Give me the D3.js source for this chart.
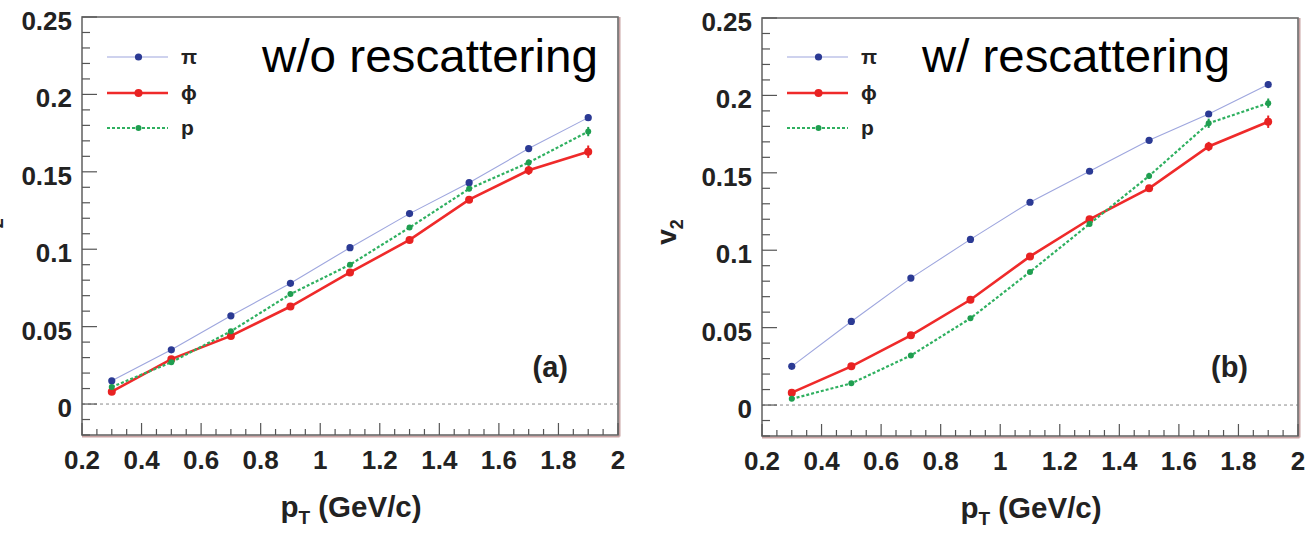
<!DOCTYPE html>
<html>
<head>
<meta charset="utf-8">
<script src="https://cdn.jsdelivr.net/npm/d3@7"></script>
<style>
  html, body { margin: 0; padding: 0; background: #fff; }
  svg { display: block; }
  text { font-family: "Liberation Sans", Arial, Helvetica, sans-serif; }
</style>
</head>
<body>
<svg id="chart" width="1305" height="535"></svg>
<script>
// pT bin centres (GeV/c)
const pt = [0.3, 0.5, 0.7, 0.9, 1.1, 1.3, 1.5, 1.7, 1.9];

// v2 without hadronic rescattering
const v2PiNoResc  = [0.015, 0.035, 0.057, 0.078, 0.101, 0.123, 0.143, 0.165, 0.185];
const v2PhiNoResc = [0.008, 0.029, 0.044, 0.063, 0.085, 0.106, 0.132, 0.151, 0.163];
const v2PNoResc   = [0.011, 0.027, 0.047, 0.071, 0.090, 0.114, 0.139, 0.156, 0.176];
const errPiNoResc  = [0.001, 0.001, 0.001, 0.001, 0.001, 0.001, 0.001, 0.0015, 0.002];
const errPhiNoResc = [0.001, 0.001, 0.001, 0.001, 0.001, 0.0015, 0.002, 0.003, 0.004];
const errPNoResc   = [0.001, 0.001, 0.001, 0.001, 0.001, 0.001, 0.0015, 0.002, 0.003];

// v2 with hadronic rescattering
const v2PiResc  = [0.025, 0.054, 0.082, 0.107, 0.131, 0.151, 0.171, 0.188, 0.207];
const v2PhiResc = [0.008, 0.025, 0.045, 0.068, 0.096, 0.120, 0.140, 0.167, 0.183];
const v2PResc   = [0.004, 0.014, 0.032, 0.056, 0.086, 0.117, 0.148, 0.182, 0.195];
const errPiResc  = [0.001, 0.001, 0.001, 0.001, 0.001, 0.001, 0.001, 0.0015, 0.002];
const errPhiResc = [0.001, 0.001, 0.001, 0.001, 0.0015, 0.002, 0.002, 0.003, 0.004];
const errPResc   = [0.001, 0.001, 0.001, 0.001, 0.001, 0.0015, 0.002, 0.003, 0.003];

// axis ticks
const xTicks = [0.2, 0.4, 0.6, 0.8, 1, 1.2, 1.4, 1.6, 1.8, 2];
const xTickLabels = ["0.2", "0.4", "0.6", "0.8", "1", "1.2", "1.4", "1.6", "1.8", "2"];
const yTicks = [0, 0.05, 0.1, 0.15, 0.2, 0.25];
const yTickLabels = ["0", "0.05", "0.1", "0.15", "0.2", "0.25"];

// species and panel text
const speciesNames = ["π", "ϕ", "p"];
const panelTitles = ["w/o rescattering", "w/ rescattering"];
const panelTags = ["(a)", "(b)"];

const xDomain = [0.2, 2];
const yDomain = [-0.02, 0.25];

const styles = [
  { line: "#9ea6de", width: 1.1, dash: null, marker: "#2b3a94", r: 3.6 },
  { line: "#ef2a2a", width: 2.6, dash: null, marker: "#e82222", r: 4.0 },
  { line: "#2fb060", width: 2.2, dash: "3,2", marker: "#1f9e50", r: 3.0 }
];

const panels = [
  { x0: 82, x1: 618, y0: 17, y1: 435, titleX: 262, titleW: 336,
    series: [[v2PiNoResc, errPiNoResc], [v2PhiNoResc, errPhiNoResc], [v2PNoResc, errPNoResc]] },
  { x0: 762, x1: 1298, y0: 18, y1: 436, titleX: 922, titleW: 308,
    series: [[v2PiResc, errPiResc], [v2PhiResc, errPhiResc], [v2PResc, errPResc]] }
];

const svg = d3.select("#chart");

panels.forEach((pn, pi) => {
  const x = d3.scaleLinear().domain(xDomain).range([pn.x0, pn.x1]);
  const y = d3.scaleLinear().domain(yDomain).range([pn.y1, pn.y0]);
  const g = svg.append("g");

  // zero reference line
  g.append("line")
    .attr("x1", pn.x0).attr("x2", pn.x1)
    .attr("y1", y(0)).attr("y2", y(0))
    .attr("stroke", "#8a8a8a").attr("stroke-width", 1)
    .attr("stroke-dasharray", "3,3");

  // frame with a soft reddish shade on right and bottom edges
  g.append("line").attr("x1", pn.x1 + 1.5).attr("x2", pn.x1 + 1.5)
    .attr("y1", pn.y0).attr("y2", pn.y1 + 1.5)
    .attr("stroke", "#c9a3a3").attr("stroke-width", 2);
  g.append("line").attr("x1", pn.x0).attr("x2", pn.x1 + 1.5)
    .attr("y1", pn.y1 + 1.5).attr("y2", pn.y1 + 1.5)
    .attr("stroke", "#c9a3a3").attr("stroke-width", 2);
  g.append("rect")
    .attr("x", pn.x0).attr("y", pn.y0)
    .attr("width", pn.x1 - pn.x0).attr("height", pn.y1 - pn.y0)
    .attr("fill", "none").attr("stroke", "#6a6a6a").attr("stroke-width", 1.6);

  // y ticks (inward, major every 0.05, minor every 0.01)
  const yMinor = d3.range(-0.02, 0.2501, 0.01).map(v => Math.round(v * 100) / 100);
  g.selectAll(".ytick").data(yMinor).join("line")
    .attr("x1", pn.x0)
    .attr("x2", d => pn.x0 + (Math.abs(d * 20 - Math.round(d * 20)) < 1e-6 ? 15 : 8))
    .attr("y1", d => y(d)).attr("y2", d => y(d))
    .attr("stroke", "#555").attr("stroke-width", 1.2);

  // x ticks (inward from bottom, major every 0.2, minor every 0.05)
  const xMinor = d3.range(0.2, 2.0001, 0.05).map(v => Math.round(v * 100) / 100);
  g.selectAll(".xtick").data(xMinor).join("line")
    .attr("x1", d => x(d)).attr("x2", d => x(d))
    .attr("y1", pn.y1)
    .attr("y2", d => pn.y1 - (Math.abs(d * 5 - Math.round(d * 5)) < 1e-6 ? 12 : 6))
    .attr("stroke", "#555").attr("stroke-width", 1.2);

  // tick labels
  g.selectAll(".ylab").data(yTicks).join("text")
    .attr("x", pn.x0 - 10).attr("y", d => y(d) + 13)
    .attr("text-anchor", "end")
    .attr("font-size", 26).attr("font-weight", "bold").attr("fill", "#222")
    .text((d, i) => yTickLabels[i]);
  g.selectAll(".xlab").data(xTicks).join("text")
    .attr("x", d => x(d)).attr("y", pn.y1 + 34)
    .attr("text-anchor", "middle")
    .attr("font-size", 26).attr("font-weight", "bold").attr("fill", "#222")
    .text((d, i) => xTickLabels[i]);

  // axis titles
  const xt = g.append("text")
    .attr("x", (pn.x0 + pn.x1) / 2 + 1).attr("y", pn.y1 + 82)
    .attr("text-anchor", "middle")
    .attr("font-size", 29.5).attr("font-weight", "bold").attr("fill", "#222");
  xt.append("tspan").text("p");
  xt.append("tspan").attr("font-size", 19).attr("dy", 7).text("T");
  xt.append("tspan").attr("dy", -7).text(" (GeV/c)");

  const yt = g.append("text")
    .attr("transform", `translate(${pn.x0 - 86},${(pn.y0 + pn.y1) / 2 + 5}) rotate(-90)`)
    .attr("text-anchor", "middle")
    .attr("font-size", 28).attr("font-weight", "bold").attr("fill", "#222");
  yt.append("tspan").text("v");
  yt.append("tspan").attr("font-size", 18).attr("dy", 7).text("2");

  // data series
  const line = d3.line().x(d => x(d[0])).y(d => y(d[1]));
  pn.series.forEach(([vals, errs], si) => {
    const st = styles[si];
    const pts = pt.map((p, i) => [p, vals[i], errs[i]]);
    g.append("path").datum(pts)
      .attr("d", line).attr("fill", "none")
      .attr("stroke", st.line).attr("stroke-width", st.width)
      .attr("stroke-dasharray", st.dash);
    g.selectAll(null).data(pts).join("line")
      .attr("x1", d => x(d[0])).attr("x2", d => x(d[0]))
      .attr("y1", d => y(d[1] - d[2])).attr("y2", d => y(d[1] + d[2]))
      .attr("stroke", st.marker).attr("stroke-width", 2);
    g.selectAll(null).data(pts).join("circle")
      .attr("cx", d => x(d[0])).attr("cy", d => y(d[1]))
      .attr("r", st.r).attr("fill", st.marker);
  });

  // legend
  const lx0 = pn.x0 + 25, lx1 = pn.x0 + 86, ly = [57, 93, 128];
  speciesNames.forEach((name, si) => {
    const st = styles[si];
    g.append("line")
      .attr("x1", lx0).attr("x2", lx1).attr("y1", ly[si]).attr("y2", ly[si])
      .attr("stroke", st.line).attr("stroke-width", st.width)
      .attr("stroke-dasharray", st.dash);
    g.append("circle").attr("cx", (lx0 + lx1) / 2 + 1).attr("cy", ly[si])
      .attr("r", st.r).attr("fill", st.marker);
    g.append("text")
      .attr("x", lx1 + 13).attr("y", ly[si] + 7)
      .attr("font-size", 21).attr("font-weight", "bold").attr("fill", "#222")
      .text(name);
  });

  // panel title and tag
  g.append("text")
    .attr("x", pn.titleX).attr("y", 72)
    .attr("font-size", 46).attr("fill", "#000")
    .attr("textLength", pn.titleW).attr("lengthAdjust", "spacingAndGlyphs")
    .text(panelTitles[pi]);
  g.append("text")
    .attr("x", pn.x1 - 50).attr("y", 377)
    .attr("text-anchor", "end")
    .attr("font-size", 29).attr("font-weight", "bold").attr("fill", "#222")
    .text(panelTags[pi]);
});
</script>
</body>
</html>
